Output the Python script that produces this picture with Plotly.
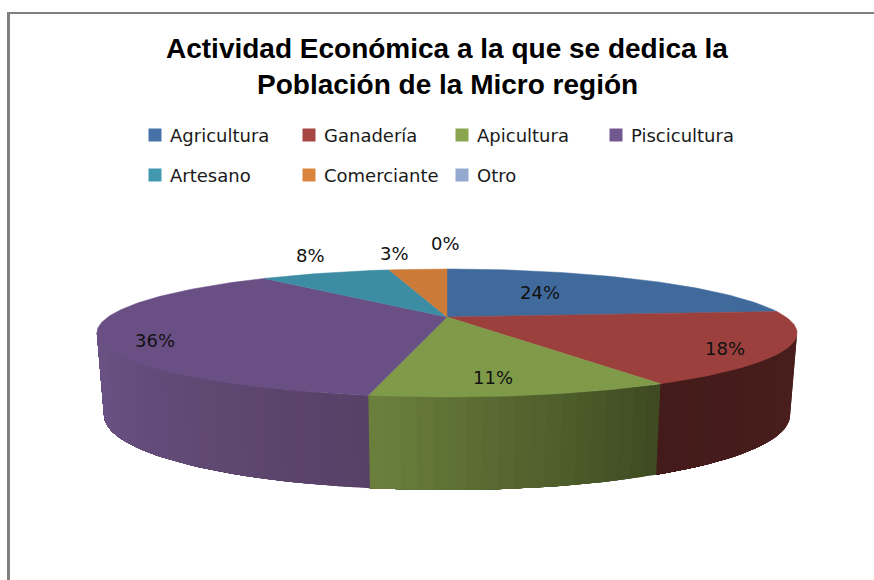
import math
import plotly.graph_objects as go

categories = ["Agricultura", "Ganadería", "Apicultura", "Piscicultura", "Artesano", "Comerciante", "Otro"]
values = [23.5, 18.3, 11.0, 36.1, 7.7, 3.4, 0]
labels = ["24%", "18%", "11%", "36%", "8%", "3%", "0%"]
top_colors = ["#416a9c", "#9c403e", "#7f9a48", "#6a4f85", "#3c8ca3", "#cb7a37", "#93a9cf"]
key_colors = ["#4672a8", "#a74643", "#89a54e", "#71588f", "#4198af", "#db843d", "#93a9cf"]
wall_colors = [None, ("#4a1f1d", "#431b1a"), ("#3f4a22", "#6a7f3c"), ("#584167", "#6c5487"), None, None, None]
label_xy = [(540, 292), (725, 348), (493, 377), (155, 340), (310, 255), (394, 253), (445, 243)]
key_xy = [(155, 135), (309, 135), (462, 135), (616, 135), (155, 175), (309, 175), (462, 175)]
title_lines = ["Actividad Económica a la que se dedica la", "Población de la Micro región"]

CX, CY, A, B, K = 447, 317, 339, 60, 0.25
FONT = "DejaVu Sans"


def top(t):
    u, v = math.sin(t), math.cos(t)
    w = 1 + K * v
    return CX + A * u / w, CY - B * v / w


def bottom(t):
    x, y = top(t)
    return CX + (x - CX) * 0.98, y + 78 - 15 * math.cos(t)


def mix(c1, c2, f):
    a = [int(c1[i:i + 2], 16) for i in (1, 3, 5)]
    b = [int(c2[i:i + 2], 16) for i in (1, 3, 5)]
    return "rgb(%d,%d,%d)" % tuple(round(p + (q - p) * f) for p, q in zip(a, b))


fig = go.Figure()
total = sum(values)
vis0, vis1 = math.acos(-K), 2 * math.pi - math.acos(-K)

# side wall: each strip reaches to the end of the slice and later strips paint over it
acc = 0
for val, wc in zip(values, wall_colors):
    t0 = acc / total * 2 * math.pi
    acc += val
    t1 = acc / total * 2 * math.pi
    if wc is None:
        continue
    a0, a1 = max(t0, vis0), min(t1, vis1)
    n = max(2, int((a1 - a0) / math.radians(2)))
    for i in range(n):
        s0 = a0 + (a1 - a0) * i / n
        arc = [s0 + (a1 - s0) * j / (n - i) for j in range(n - i + 1)]
        p = [top(s) for s in arc] + [bottom(s) for s in reversed(arc)]
        p.append(p[0])
        col = mix(wc[0], wc[1], i / max(1, n - 1))
        fig.add_trace(go.Scatter(x=[q[0] for q in p], y=[q[1] for q in p], mode="lines", fill="toself",
                                 fillcolor=col, line=dict(color=col, width=0), hoverinfo="skip", showlegend=False))

# top face
acc = 0
for cat, val, col in zip(categories, values, top_colors):
    t0 = acc / total * 2 * math.pi
    acc += val
    t1 = acc / total * 2 * math.pi
    if val == 0:
        continue
    n = max(2, int((t1 - t0) / math.radians(1)))
    arc = [top(t0 + (t1 - t0) * i / n) for i in range(n + 1)]
    pts = [(CX, CY)] + arc + [(CX, CY)]
    fig.add_trace(go.Scatter(x=[q[0] for q in pts], y=[q[1] for q in pts], mode="lines", fill="toself", name=cat,
                             fillcolor=col, line=dict(color=col, width=0.5), showlegend=False))

# legend keys
for cat, col, (kx, ky) in zip(categories, key_colors, key_xy):
    fig.add_trace(go.Scatter(x=[kx], y=[ky], mode="markers", marker=dict(symbol="square", size=13, color=col),
                             name=cat, hoverinfo="name", showlegend=False))
    fig.add_annotation(x=kx + 13, y=ky, text=cat, showarrow=False, xanchor="left", yanchor="middle", xref="x", yref="y",
                       font=dict(family=FONT, size=18, color="#1a1a1a"))

for lab, (lx, ly) in zip(labels, label_xy):
    fig.add_annotation(x=lx, y=ly, text=lab, showarrow=False, xref="x", yref="y",
                       font=dict(family=FONT, size=18, color="#111111"))

fig.add_annotation(x=447, y=48, text="<b>" + title_lines[0] + "</b>", showarrow=False, xref="x", yref="y",
                   font=dict(family="Liberation Sans", size=28, color="#000000"))
fig.add_annotation(x=447, y=84, text="<b>" + title_lines[1] + "</b>", showarrow=False, xref="x", yref="y",
                   font=dict(family="Liberation Sans", size=28, color="#000000"))

fig.add_shape(type="line", x0=8.5, x1=8.5, y0=12, y1=580, xref="x", yref="y", line=dict(color="#808080", width=3))
fig.add_shape(type="line", x0=7, x1=874, y0=13, y1=13, xref="x", yref="y", line=dict(color="#808080", width=2))

fig.update_layout(width=874, height=580, margin=dict(l=0, r=0, t=0, b=0), autosize=False,
                  paper_bgcolor="white", plot_bgcolor="white", showlegend=False,
                  xaxis=dict(range=[0, 874], visible=False, fixedrange=True),
                  yaxis=dict(range=[580, 0], visible=False, fixedrange=True))
fig.write_html("out.html", post_script="document.body.style.margin='0';document.body.style.overflow='hidden';",
               config={"displayModeBar": False})
